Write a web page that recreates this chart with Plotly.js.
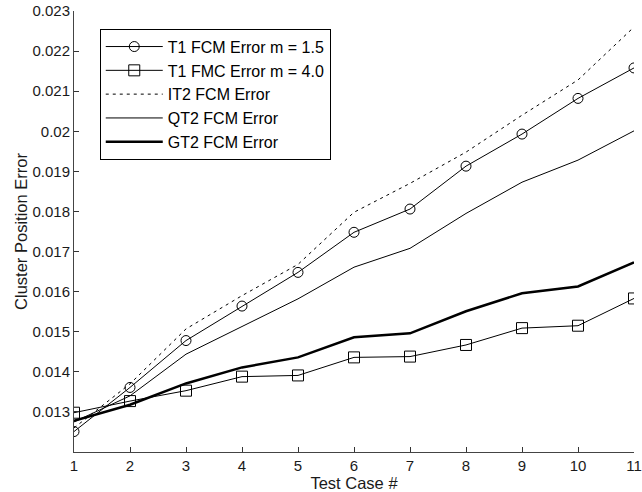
<!DOCTYPE html>
<html>
<head>
<meta charset="utf-8">
<script src="https://cdn.plot.ly/plotly-3.0.1.min.js"></script>
<style>html,body{margin:0;padding:0;background:#fff;}#chart{width:642px;height:492px;}</style>
</head>
<body>
<div id="chart"></div>
<script>
const testCases = [1, 2, 3, 4, 5, 6, 7, 8, 9, 10, 11];
const t1m15 = [0.01251, 0.01361, 0.01478, 0.01564, 0.01648, 0.01748, 0.01806, 0.01913, 0.01993, 0.02082, 0.02158];
const t1m40 = [0.01298, 0.01327, 0.01353, 0.01388, 0.01391, 0.01436, 0.01438, 0.01467, 0.01509, 0.01515, 0.01583];
const it2 = [0.01260, 0.01370, 0.01507, 0.01590, 0.01668, 0.01798, 0.01870, 0.01948, 0.02040, 0.02128, 0.02260];
const qt2 = [0.01275, 0.01340, 0.01444, 0.01513, 0.01582, 0.01661, 0.01708, 0.01795, 0.01873, 0.01928, 0.02001];
const gt2 = [0.01278, 0.01318, 0.01371, 0.01411, 0.01436, 0.01486, 0.01496, 0.01551, 0.01596, 0.01613, 0.01673];
const seriesNames = ["T1 FCM Error m = 1.5", "T1 FMC Error m = 4.0", "IT2 FCM Error", "QT2 FCM Error", "GT2 FCM Error"];
const yTickVals = [0.013, 0.014, 0.015, 0.016, 0.017, 0.018, 0.019, 0.020, 0.021, 0.022, 0.023];
const yTickText = ["0.013", "0.014", "0.015", "0.016", "0.017", "0.018", "0.019", "0.02", "0.021", "0.022", "0.023"];

const traces = [
  {x: testCases, y: t1m15, name: seriesNames[0], mode: "lines+markers",
   line: {color: "#000", width: 1}, marker: {symbol: "circle-open", size: 10, color: "#000", line: {width: 1}}},
  {x: testCases, y: t1m40, name: seriesNames[1], mode: "lines+markers",
   line: {color: "#000", width: 1}, marker: {symbol: "square-open", size: 11, color: "#000", line: {width: 1}}},
  {x: testCases, y: it2, name: seriesNames[2], mode: "lines",
   line: {color: "#000", width: 1, dash: "3px,4px"}},
  {x: testCases, y: qt2, name: seriesNames[3], mode: "lines",
   line: {color: "#000", width: 1}},
  {x: testCases, y: gt2, name: seriesNames[4], mode: "lines",
   line: {color: "#000", width: 2.5}}
];

const layout = {
  width: 642, height: 492,
  margin: {l: 74, r: 8, t: 11, b: 40, pad: 0},
  paper_bgcolor: "#fff", plot_bgcolor: "#fff",
  font: {family: "Liberation Sans, Arial, sans-serif", size: 15, color: "#1a1a1a"},
  showlegend: true,
  legend: {x: 0.046, y: 0.96, xanchor: "left", yanchor: "top",
    bordercolor: "#000", borderwidth: 1, bgcolor: "#fff",
    font: {size: 16, color: "#000"}, tracegroupgap: 0, itemwidth: 57},
  xaxis: {range: [1, 11], tickvals: testCases, ticks: "inside", ticklen: 5, tickcolor: "#333",
    ticklabeloverflow: "allow", tickfont: {size: 15},
    showline: true, linecolor: "#444", linewidth: 1, showgrid: false, zeroline: false,
    title: {text: "Test Case #", standoff: 0, font: {size: 16.5}}},
  yaxis: {range: [0.012, 0.023], tickvals: yTickVals, ticktext: yTickText, ticks: "inside", ticklen: 5, tickcolor: "#333",
    ticklabeloverflow: "allow", tickfont: {size: 15},
    showline: true, linecolor: "#444", linewidth: 1, showgrid: false, zeroline: false,
    title: {text: "Cluster Position Error", standoff: 0, font: {size: 16.5}}}
};

Plotly.newPlot("chart", traces, layout, {displayModeBar: false, staticPlot: true});
</script>
</body>
</html>
